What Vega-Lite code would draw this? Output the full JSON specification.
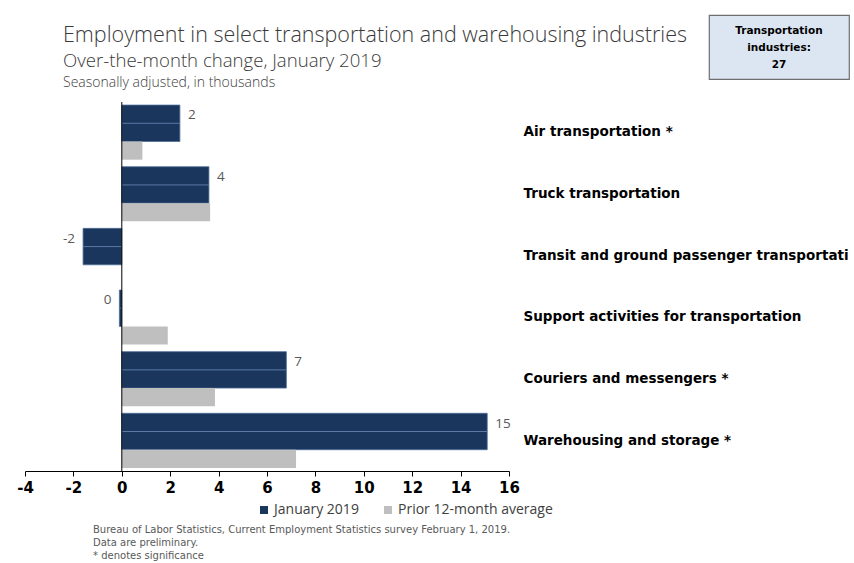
{
  "$schema": "https://vega.github.io/schema/vega-lite/v6.json",
  "padding": {"left": 16, "top": 14, "right": 0, "bottom": 0},
  "autosize": {"type": "pad"},
  "background": "white",
  "config": {
    "view": {"stroke": null},
    "style": {"guide-label": {"ellipsis": "\u200b"}},
    "locale": {"number": {"decimal": ".", "thousands": ",", "grouping": [3], "currency": ["$", ""], "minus": "-"}},
    "title": {"font": "Open Sans", "color": "#3a3a3a", "fontWeight": 300},
    "axisX": {"grid": false, "title": null, "domainColor": "#000000", "tickColor": "#000000", "tickSize": 5, "labelFlush": false, "labelFont": "DejaVu Sans", "labelFontWeight": "bold", "labelFontSize": 15, "labelColor": "#000000", "labelPadding": 4},
    "axisY": {"title": null, "orient": "right", "domain": false, "ticks": false, "grid": false, "labelFont": "DejaVu Sans", "labelFontWeight": "bold", "labelFontSize": 13.5, "labelColor": "#000000", "labelAlign": "left", "labelPadding": 14, "labelLimit": 330}
  },
  "datasets": {
    "main": [
      {"industry": "Air transportation *", "series": "January 2019", "value": 2.4},
      {"industry": "Air transportation *", "series": "Prior 12-month average", "value": 0.85},
      {"industry": "Truck transportation", "series": "January 2019", "value": 3.6},
      {"industry": "Truck transportation", "series": "Prior 12-month average", "value": 3.65},
      {"industry": "Transit and ground passenger transportation", "series": "January 2019", "value": -1.6},
      {"industry": "Transit and ground passenger transportation", "series": "Prior 12-month average", "value": 0.0},
      {"industry": "Support activities for transportation", "series": "January 2019", "value": -0.1},
      {"industry": "Support activities for transportation", "series": "Prior 12-month average", "value": 1.9},
      {"industry": "Couriers and messengers *", "series": "January 2019", "value": 6.8},
      {"industry": "Couriers and messengers *", "series": "Prior 12-month average", "value": 3.85},
      {"industry": "Warehousing and storage *", "series": "January 2019", "value": 15.1},
      {"industry": "Warehousing and storage *", "series": "Prior 12-month average", "value": 7.2}
    ],
    "box": [{"label": "Transportation industries:", "count": 27}]
  },
  "title": {
    "text": ["Bureau of Labor Statistics, Current Employment Statistics survey February 1, 2019.", "Data are preliminary.", "* denotes significance"],
    "orient": "bottom", "anchor": "start", "frame": "group", "dx": 68, "offset": 8,
    "fontSize": 10, "fontWeight": "normal", "color": "#595959", "lineHeight": 13.2, "font": "DejaVu Sans"
  },
  "columns": 2,
  "bounds": "flush",
  "align": "each",
  "spacing": {"row": 23, "column": 200},
  "concat": [
    {
      "width": 484,
      "height": 1,
      "data": {"values": []},
      "mark": "text",
      "title": {
        "text": "Employment in select transportation and warehousing industries",
        "subtitle": "Over-the-month change, January 2019",
        "orient": "bottom", "anchor": "start", "frame": "group", "dx": 38, "offset": 9,
        "fontSize": 21.5, "fontWeight": 300, "color": "#3a3a3a",
        "subtitleFont": "Open Sans", "subtitleFontSize": 18.6, "subtitleFontWeight": 300, "subtitleColor": "#3a3a3a", "subtitlePadding": 5
      }
    },
    {
      "width": 140,
      "height": 64,
      "view": {"fill": "#dce6f2", "stroke": "#6f6f6f", "strokeWidth": 1.2},
      "data": {"name": "box"},
      "layer": [
        {
          "mark": {"type": "text", "font": "DejaVu Sans", "fontWeight": "bold", "fontSize": 10.5, "lineBreak": " ", "lineHeight": 17, "baseline": "middle", "align": "center", "dy": -16.5, "color": "#000000"},
          "encoding": {"text": {"field": "label", "type": "nominal"}}
        },
        {
          "mark": {"type": "text", "font": "DejaVu Sans", "fontWeight": "bold", "fontSize": 10.5, "baseline": "middle", "align": "center", "dy": 17.5, "color": "#000000"},
          "encoding": {"text": {"field": "count", "type": "quantitative"}}
        }
      ]
    },
    {
      "width": 484,
      "height": 369,
      "data": {"name": "main"},
      "title": {
        "text": "Seasonally adjusted, in thousands",
        "anchor": "start", "frame": "group", "dx": 38, "offset": 12,
        "fontSize": 14, "fontWeight": 300, "color": "#404040"
      },
      "layer": [
        {
          "transform": [{"filter": "datum.series === 'January 2019'"}],
          "mark": {"type": "bar", "height": {"band": 0.6667}, "yOffset": -9.1, "stroke": "#4d6d96", "strokeWidth": 0.8},
          "encoding": {
            "y": {"field": "industry", "type": "nominal",
                  "sort": ["Air transportation *", "Truck transportation", "Transit and ground passenger transportation", "Support activities for transportation", "Couriers and messengers *", "Warehousing and storage *"],
                  "scale": {"paddingInner": 0.114, "paddingOuter": 0.05}},
            "x": {"field": "value", "type": "quantitative", "scale": {"domain": [-4, 16], "nice": false, "zero": true},
                  "axis": {"values": [-4, -2, 0, 2, 4, 6, 8, 10, 12, 14, 16]}},
            "color": {"field": "series", "type": "nominal",
                      "scale": {"domain": ["January 2019", "Prior 12-month average"], "range": ["#1b365d", "#bfbfbf"]},
                      "legend": {"orient": "none", "legendX": 232, "legendY": 488, "direction": "horizontal", "title": null,
                                 "symbolType": "square", "symbolSize": 64, "symbolStrokeWidth": 0,
                                 "labelFont": "Open Sans", "labelFontSize": 14, "labelColor": "#404040",
                                 "columnPadding": 22, "labelOffset": 3}}
          }
        },
        {
          "transform": [{"filter": "datum.series === 'Prior 12-month average'"}],
          "mark": {"type": "bar", "height": {"band": 0.3333}, "yOffset": 18.2},
          "encoding": {
            "y": {"field": "industry", "type": "nominal",
                  "sort": ["Air transportation *", "Truck transportation", "Transit and ground passenger transportation", "Support activities for transportation", "Couriers and messengers *", "Warehousing and storage *"]},
            "x": {"field": "value", "type": "quantitative"},
            "color": {"field": "series", "type": "nominal"}
          }
        },
        {
          "transform": [{"filter": "datum.series === 'January 2019'"}],
          "mark": {"type": "rule", "color": "#5a7aa5", "strokeWidth": 1},
          "encoding": {
            "y": {"field": "industry", "type": "nominal", "bandPosition": 0.3333,
                  "sort": ["Air transportation *", "Truck transportation", "Transit and ground passenger transportation", "Support activities for transportation", "Couriers and messengers *", "Warehousing and storage *"]},
            "x": {"field": "value", "type": "quantitative"},
            "x2": {"datum": 0}
          }
        },
        {
          "data": {"values": [{}]},
          "mark": {"type": "rule", "color": "#000000", "strokeWidth": 1},
          "encoding": {"x": {"datum": 0, "type": "quantitative"}}
        },
        {
          "transform": [{"filter": "datum.series === 'January 2019' && datum.value >= 0"}],
          "mark": {"type": "text", "align": "left", "baseline": "middle", "dx": 8, "font": "Open Sans", "fontSize": 13.5, "color": "#595959"},
          "encoding": {
            "y": {"field": "industry", "type": "nominal", "bandPosition": 0.19,
                  "sort": ["Air transportation *", "Truck transportation", "Transit and ground passenger transportation", "Support activities for transportation", "Couriers and messengers *", "Warehousing and storage *"]},
            "x": {"field": "value", "type": "quantitative"},
            "text": {"field": "value", "type": "quantitative", "format": ".0f"}
          }
        },
        {
          "transform": [{"filter": "datum.series === 'January 2019' && datum.value < 0"}],
          "mark": {"type": "text", "align": "right", "baseline": "middle", "dx": -8, "font": "Open Sans", "fontSize": 13.5, "color": "#595959"},
          "encoding": {
            "y": {"field": "industry", "type": "nominal", "bandPosition": 0.19,
                  "sort": ["Air transportation *", "Truck transportation", "Transit and ground passenger transportation", "Support activities for transportation", "Couriers and messengers *", "Warehousing and storage *"]},
            "x": {"field": "value", "type": "quantitative"},
            "text": {"field": "value", "type": "quantitative", "format": ".0f"}
          }
        }
      ]
    }
  ]
}
